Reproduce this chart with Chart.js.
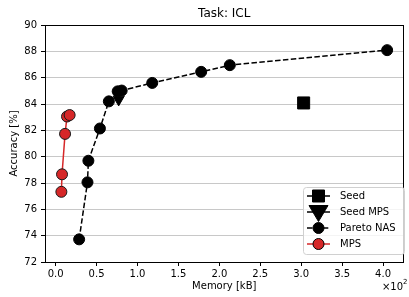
<!DOCTYPE html>
<html>
<head>
<meta charset="utf-8">
<script src="https://cdn.jsdelivr.net/npm/chart.js@4"></script>
<style>
  html, body { margin: 0; background: white; overflow: hidden; }
</style>
</head>
<body>
<canvas id="myChart" width="413" height="297"></canvas>
<script>
// memory in kB, accuracy in %
const paretoMemory = [28.7, 38.9, 40.0, 54.1, 65.0, 75.8, 80.7, 118, 177.8, 212.8, 405]
const paretoAcc = [73.72, 78.05, 79.69, 82.14, 84.2, 84.96, 85.02, 85.6, 86.44, 86.95, 88.09]
const mpsMemory = [7.0, 7.8, 11.5, 13.9, 17.1]
const mpsAcc = [77.33, 78.66, 81.73, 83.05, 83.16]
const seedMemory = [303]
const seedAcc = [84.08]
const seedMpsMemory = [77]
const seedMpsAcc = [84.35]
const xTicks = [0, 50, 100, 150, 200, 250, 300, 350, 400]
const yTicks = [72, 74, 76, 78, 80, 82, 84, 86, 88, 90]

const canvas = document.querySelector("#myChart")
const FONT = "'DejaVu Sans', sans-serif"

const toPoints = (xs, ys) => xs.map((x, i) => ({ x: x, y: ys[i] }))

const legendItems = [
    { label: "Seed", color: "#000", marker: "square", dash: [] },
    { label: "Seed MPS", color: "#000", marker: "triangle", dash: [] },
    { label: "Pareto NAS", color: "#000", marker: "circle", dash: [5.5, 2.4] },
    { label: "MPS", color: "#d62728", marker: "circle", dash: [] }
]

function drawMarker(ctx, kind, x, y, fill) {
    ctx.save()
    ctx.fillStyle = fill
    ctx.strokeStyle = "#000"
    ctx.lineWidth = 1
    ctx.setLineDash([])
    ctx.beginPath()
    if (kind === "square") {
        ctx.rect(x - 6, y - 6, 12, 12)
    } else if (kind === "triangle") {
        ctx.moveTo(x - 9.5, y - 6.5)
        ctx.lineTo(x + 9.5, y - 6.5)
        ctx.lineTo(x, y + 9.5)
        ctx.closePath()
    } else {
        ctx.arc(x, y, 5.5, 0, Math.PI * 2)
    }
    ctx.fill()
    ctx.stroke()
    ctx.restore()
}

const extras = {
    id: "extras",
    afterDraw(chart) {
        const ctx = chart.ctx
        const a = chart.chartArea
        ctx.save()
        // frame
        ctx.strokeStyle = "#000"
        ctx.lineWidth = 1
        ctx.strokeRect(Math.round(a.left) + 0.5, Math.round(a.top) + 0.5,
            Math.round(a.right - a.left) - 1, Math.round(a.bottom - a.top))

        // title, centred over the axes
        ctx.fillStyle = "#000"
        ctx.font = "12px " + FONT
        ctx.textAlign = "center"
        ctx.textBaseline = "middle"
        ctx.fillText("Task: ICL", (a.left + a.right) / 2, 14)

        // x multiplier
        ctx.font = "10px " + FONT
        ctx.textAlign = "right"
        ctx.fillText("×10", 403, 287)
        ctx.font = "7px " + FONT
        ctx.textAlign = "left"
        ctx.fillText("2", 403, 282)

        // legend
        const bx = 303.5, by = 187.5, bw = 101, bh = 67, r = 3
        ctx.beginPath()
        ctx.moveTo(bx + r, by)
        ctx.arcTo(bx + bw, by, bx + bw, by + bh, r)
        ctx.arcTo(bx + bw, by + bh, bx, by + bh, r)
        ctx.arcTo(bx, by + bh, bx, by, r)
        ctx.arcTo(bx, by, bx + bw, by, r)
        ctx.closePath()
        ctx.fillStyle = "rgba(255,255,255,0.8)"
        ctx.fill()
        ctx.strokeStyle = "#d0d0d0"
        ctx.stroke()

        legendItems.forEach((item, i) => {
            const y = 196 + i * 16
            ctx.strokeStyle = item.color
            ctx.lineWidth = 1.5
            ctx.setLineDash(item.dash)
            ctx.beginPath()
            ctx.moveTo(307, y)
            ctx.lineTo(330, y)
            ctx.stroke()
            ctx.setLineDash([])
            drawMarker(ctx, item.marker, 318.5, y, item.color)
            ctx.fillStyle = "#000"
            ctx.font = "10px " + FONT
            ctx.textAlign = "left"
            ctx.textBaseline = "middle"
            ctx.fillText(item.label, 340, y)
        })
        ctx.restore()
    }
}

const data = {
    datasets: [
        {
            label: "Seed",
            data: toPoints(seedMemory, seedAcc),
            pointStyle: "rect",
            pointRadius: 8.5,
            backgroundColor: "#000",
            borderColor: "#000",
            borderWidth: 1,
            showLine: false,
            order: 3
        },
        {
            label: "Seed MPS",
            data: toPoints(seedMpsMemory, seedMpsAcc),
            pointStyle: "triangle",
            pointRotation: 180,
            pointRadius: 6.5,
            backgroundColor: "#000",
            borderColor: "#000",
            borderWidth: 1,
            showLine: false,
            order: 2
        },
        {
            label: "Pareto NAS",
            data: toPoints(paretoMemory, paretoAcc),
            pointStyle: "circle",
            pointRadius: 5.5,
            backgroundColor: "#000",
            borderColor: "#000",
            borderWidth: 1.5,
            borderDash: [5.5, 2.4],
            pointBorderWidth: 1,
            showLine: true,
            order: 1
        },
        {
            label: "MPS",
            data: toPoints(mpsMemory, mpsAcc),
            pointStyle: "circle",
            pointRadius: 5.5,
            pointBackgroundColor: "#d62728",
            pointBorderColor: "#1a1a1a",
            pointBorderWidth: 1,
            borderColor: "#d62728",
            borderWidth: 1.5,
            showLine: true,
            order: 0
        }
    ]
}

const config = {
    type: "scatter",
    data: data,
    plugins: [extras],
    options: {
        responsive: false,
        animation: false,
        devicePixelRatio: 1,
        layout: { padding: { top: 25, right: 0, left: 0, bottom: 0 } },
        plugins: {
            legend: { display: false },
            tooltip: { enabled: false },
            title: { display: false }
        },
        scales: {
            x: {
                type: "linear",
                min: -13,
                max: 425,
                afterBuildTicks: (scale) => { scale.ticks = xTicks.map(v => ({ value: v })) },
                afterFit: (scale) => {
                    scale.height = 35
                    scale.paddingLeft = 0
                    scale.paddingRight = 0
                },
                ticks: {
                    color: "#000",
                    font: { family: FONT, size: 10 },
                    padding: 2,
                    maxRotation: 0,
                    autoSkip: false,
                    callback: (v) => (v / 100).toFixed(1)
                },
                grid: {
                    drawOnChartArea: false,
                    tickLength: 4,
                    tickColor: "#000"
                },
                border: { color: "#000" },
                title: {
                    display: true,
                    text: "Memory [kB]",
                    color: "#000",
                    font: { family: FONT, size: 10 },
                    padding: { top: 0, bottom: 5 }
                }
            },
            y: {
                type: "linear",
                min: 72,
                max: 90,
                afterBuildTicks: (scale) => { scale.ticks = yTicks.map(v => ({ value: v })) },
                afterFit: (scale) => {
                    scale.width = 45
                    scale.paddingTop = 0
                    scale.paddingBottom = 0
                },
                ticks: {
                    color: "#000",
                    font: { family: FONT, size: 10 },
                    padding: 4
                },
                grid: {
                    color: "#c8c8c8",
                    lineWidth: 1,
                    tickLength: 4,
                    tickColor: "#000"
                },
                border: { color: "#000" },
                title: {
                    display: true,
                    text: "Accuracy [%]",
                    color: "#000",
                    font: { family: FONT, size: 10 },
                    padding: { top: 8, bottom: 0 }
                }
            }
        }
    }
}

new Chart(canvas, config)
</script>
</body>
</html>
